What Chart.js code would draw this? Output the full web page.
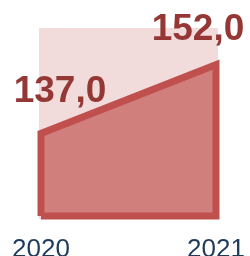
<!DOCTYPE html>
<html><head><meta charset="utf-8">
<script src="https://cdn.jsdelivr.net/npm/chart.js@4/dist/chart.umd.min.js"></script>
<style>html,body{margin:0;padding:0;background:#fff}#wrap{width:250px;height:256px}</style>
</head><body><div id="wrap"><canvas id="c" width="250" height="256"></canvas></div>
<script>
const years = [2020, 2021];
const values = [137.0, 152.0];
const valueLabels = ["137,0", "152,0"];
const yMin = 119;
const yMax = 160;

const fillPts = years.map((x, i) => ({x: x, y: values[i]}));
const outlinePts = [{x: years[0], y: yMin}]
  .concat(fillPts)
  .concat([{x: years[years.length - 1], y: yMin}, {x: years[0], y: yMin}]);

const labelOffsets = [[19, -31], [-18, -25]];

const bgPlugin = {
  id: 'bg',
  beforeDatasetsDraw(chart) {
    const a = chart.chartArea, ctx = chart.ctx;
    ctx.save();
    ctx.fillStyle = '#f2dcdb';
    ctx.fillRect(a.left - 2, a.top, a.right - a.left + 4, a.bottom - a.top + 3);
    ctx.restore();
  }
};
const labelPlugin = {
  id: 'vlabels',
  afterDatasetsDraw(chart) {
    const ctx = chart.ctx, xs = chart.scales.x, ys = chart.scales.y;
    ctx.save();
    ctx.font = 'bold 37px "Liberation Sans", Arial, sans-serif';
    ctx.fillStyle = '#953735';
    ctx.textAlign = 'center';
    ctx.textBaseline = 'alphabetic';
    values.forEach((v, i) => {
      const px = xs.getPixelForValue(years[i]);
      const py = ys.getPixelForValue(v);
      ctx.fillText(valueLabels[i], px + labelOffsets[i][0], py + labelOffsets[i][1]);
    });
    ctx.restore();
  }
};

new Chart(document.getElementById('c'), {
  type: 'line',
  data: {
    datasets: [{
      data: fillPts,
      order: 2,
      borderWidth: 0,
      backgroundColor: '#d07f7d',
      pointRadius: 0,
      fill: 'start',
      tension: 0,
      clip: false
    }, {
      data: outlinePts,
      order: 1,
      borderColor: '#c0504d',
      borderWidth: 7,
      borderJoinStyle: 'miter',
      borderCapStyle: 'butt',
      pointRadius: 0,
      fill: false,
      tension: 0,
      clip: false
    }]
  },
  options: {
    responsive: false,
    animation: false,
    events: [],
    layout: {padding: {left: 41, right: 34, top: 28, bottom: 0}},
    plugins: {legend: {display: false}, tooltip: {enabled: false}},
    scales: {
      x: {
        type: 'linear', min: years[0], max: years[years.length - 1],
        grid: {display: false, drawTicks: false},
        border: {display: false},
        afterFit: s => { s.height = 40; s.paddingLeft = 0; s.paddingRight = 0; },
        ticks: {
          stepSize: 1, padding: 18, color: '#1f3b5c',
          font: {family: '"Liberation Sans", Arial, sans-serif', size: 26},
          callback: v => String(v)
        }
      },
      y: {display: false, min: yMin, max: yMax}
    }
  },
  plugins: [bgPlugin, labelPlugin]
});
</script></body></html>
